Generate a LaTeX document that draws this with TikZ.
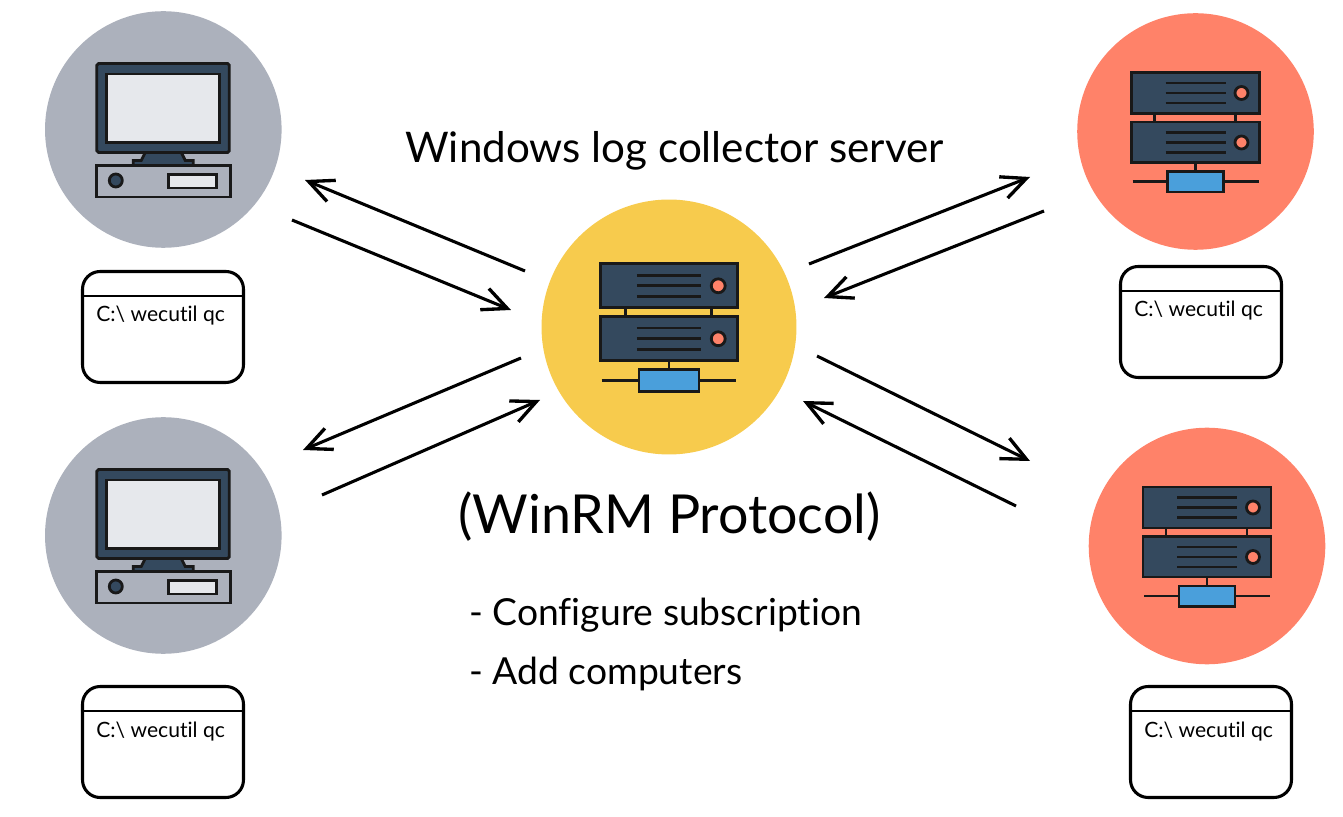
\documentclass[tikz,border=0pt]{standalone}
\usepackage{fontspec}
\setmainfont[Ligatures=NoCommon]{Lato}
\usetikzlibrary{arrows.meta}
\definecolor{slate}{HTML}{34495E}
\definecolor{greyfill}{HTML}{ACB1BC}
\definecolor{screenfill}{HTML}{E6E8EC}
\definecolor{yellowfill}{HTML}{F7CB4D}
\definecolor{redfill}{HTML}{FF8269}
\definecolor{bluefill}{HTML}{4A9FDB}
\tikzset{
  disc/.style={circle,draw=none,inner sep=0pt,minimum size=#1},
  link/.style={draw=black,line width=1.75pt,-{Straight Barb[length=14pt,width=13pt,line width=1.9pt]}},
  winbox/.style={draw=black,line width=1.75pt,rounded corners=10pt,fill=white,minimum width=3.22cm,minimum height=2.22cm,inner sep=0pt},
  wintext/.style={font=\fontsize{12}{14}\selectfont,inner sep=0pt,anchor=base west},
  bigtext/.style={inner sep=0pt,anchor=base west},
  icon/.style={draw=black!90,line width=1.6pt},
  pics/rack/.style={code={
    \draw[icon,fill=slate] (-64,-59) rectangle (64,-18);
    \draw[icon,fill=slate] (-64,-9.5) rectangle (64,31);
    \draw[icon] (-41,-18) -- (-41,-9.5);
    \draw[icon] (40,-18) -- (40,-9.5);
    \draw[icon] (0,31) -- (0,40);
    \draw[icon] (-63,50) -- (63,50);
    \draw[icon,fill=bluefill] (-28,40) rectangle (28,60.5);
    \draw[icon] (-30,-48.5) -- (30,-48.5);
    \draw[icon] (-30,-38.5) -- (30,-38.5);
    \draw[icon] (-30,-28.5) -- (30,-28.5);
    \draw[icon] (-30,1) -- (30,1);
    \draw[icon] (-30,11) -- (30,11);
    \draw[icon] (-30,21) -- (30,21);
    \draw[icon,fill=#1] (46,-38.5) circle (6.5);
    \draw[icon,fill=#1] (46,11) circle (6.5);
  }},
  pics/desktop/.style={code={
    \draw[icon,fill=slate] (-18,23) -- (-22,31) -- (-30,31) -- (-30,36) -- (30,36) -- (30,31) -- (22,31) -- (18,23) -- cycle;
    \draw[icon,fill=slate,rounded corners=1pt] (-66.5,-66) rectangle (66,23);
    \draw[icon,fill=screenfill] (-56.5,-55.5) rectangle (56,13);
    \draw[icon,fill=greyfill] (-67,36) rectangle (67,67.5);
    \draw[icon,fill=slate] (-47.5,51) circle (6.5);
    \draw[icon,fill=screenfill] (5,45) rectangle (53.5,58.5);
  }},
}
\begin{document}
\begin{tikzpicture}[x=0.02cm,y=-0.02cm]
\useasboundingbox (0,0) rectangle (1343,817);
% circles
\node[disc=4.732cm,fill=greyfill] (pcA) at (163.3,129.5) {};
\node[disc=4.732cm,fill=greyfill] (pcB) at (163.3,535.5) {};
\node[disc=5.1cm,fill=yellowfill] (collector) at (669,327) {};
\node[disc=4.732cm,fill=redfill] (srvA) at (1195.5,131.5) {};
\node[disc=4.732cm,fill=redfill] (srvB) at (1207,546) {};
% icons
\pic at (pcA) {desktop};
\pic at (pcB) {desktop};
\pic[scale=1.07] at (collector) {rack=redfill};
\pic at (srvA) {rack=redfill};
\pic at (srvB) {rack=redfill};
% windows
\node[winbox] (winA) at (163,327) {};
\node[winbox] (winB) at (163,742) {};
\node[winbox] (winC) at (1201,322) {};
\node[winbox] (winD) at (1211,742) {};
\draw[line width=1.5pt] ([yshift=-0.52cm]winA.north west) -- ([yshift=-0.52cm]winA.north east);
\draw[line width=1.5pt] ([yshift=-0.52cm]winB.north west) -- ([yshift=-0.52cm]winB.north east);
\draw[line width=1.5pt] ([yshift=-0.52cm]winC.north west) -- ([yshift=-0.52cm]winC.north east);
\draw[line width=1.5pt] ([yshift=-0.52cm]winD.north west) -- ([yshift=-0.52cm]winD.north east);
\node[wintext] (cmdA) at (96,322) {C:\textbackslash{} wecutil qc};
\node[wintext] (cmdB) at (96,737) {C:\textbackslash{} wecutil qc};
\node[wintext] (cmdC) at (1134,317) {C:\textbackslash{} wecutil qc};
\node[wintext] (cmdD) at (1144,737) {C:\textbackslash{} wecutil qc};
% labels
\node[bigtext,font=\fontsize{24}{28}\selectfont] (title) at (405,163) {Windows log collector server};
\node[bigtext,font=\fontsize{30.6}{36}\selectfont] (proto) at (458,533.5) {(WinRM Protocol)};
\node[bigtext,font=\fontsize{21.2}{26}\selectfont] (stepA) at (469,625) {- Configure subscription};
\node[bigtext,font=\fontsize{21.2}{26}\selectfont] (stepB) at (469,684) {- Add computers};
% arrow ends
\coordinate (a1) at (525,271);
\coordinate (a2) at (305,180);
\coordinate (b1) at (292,220);
\coordinate (b2) at (511,310);
\coordinate (c1) at (521,358);
\coordinate (c2) at (303,450);
\coordinate (d1) at (322,495);
\coordinate (d2) at (540,400);
\coordinate (e1) at (809,264);
\coordinate (e2) at (1030,177);
\coordinate (f1) at (1044,211);
\coordinate (f2) at (824,298);
\coordinate (g1) at (817,356);
\coordinate (g2) at (1030,461);
\coordinate (h1) at (1016,506);
\coordinate (h2) at (803,401);
\draw[link] (a1) -- (a2);
\draw[link] (b1) -- (b2);
\draw[link] (c1) -- (c2);
\draw[link] (d1) -- (d2);
\draw[link] (e1) -- (e2);
\draw[link] (f1) -- (f2);
\draw[link] (g1) -- (g2);
\draw[link] (h1) -- (h2);
\end{tikzpicture}
\end{document}
